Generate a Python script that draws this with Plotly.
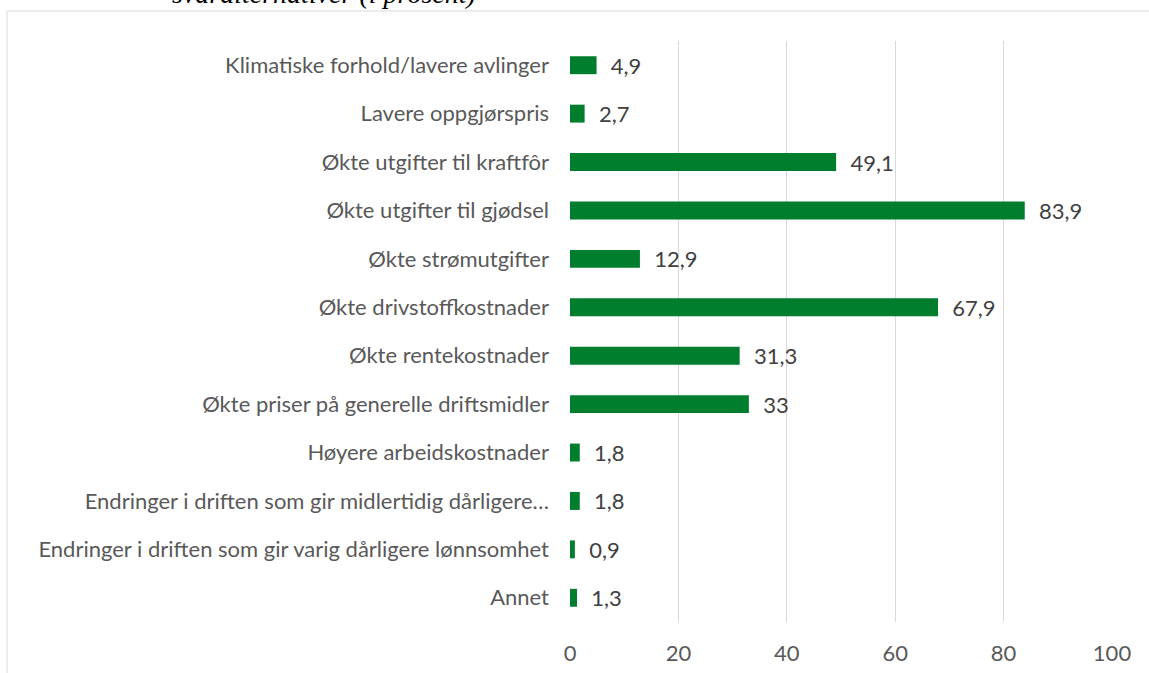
import plotly.graph_objects as go

categories = [
    "Klimatiske forhold/lavere avlinger",
    "Lavere oppgjørspris",
    "Økte utgifter til kraftfôr",
    "Økte utgifter til gjødsel",
    "Økte strømutgifter",
    "Økte drivstoffkostnader",
    "Økte rentekostnader",
    "Økte priser på generelle driftsmidler",
    "Høyere arbeidskostnader",
    "Endringer i driften som gir midlertidig dårligere…",
    "Endringer i driften som gir varig dårligere lønnsomhet",
    "Annet",
]
values = [4.9, 2.7, 49.1, 83.9, 12.9, 67.9, 31.3, 33, 1.8, 1.8, 0.9, 1.3]
tick_vals = [0, 20, 40, 60, 80, 100]
title_fragment = "svaralternativer (i prosent)"

labels = [("%g" % v).replace(".", ",") for v in values]

FONT = "Lato, 'Open Sans', sans-serif"

PT, PB = 41, 622
PH = PB - PT

fig = go.Figure(
    go.Bar(
        x=values,
        y=categories,
        orientation="h",
        marker=dict(color="#007D2D", line=dict(width=0)),
        width=0.37,
        text=labels,
        texttemplate="\u00a0\u00a0%{text}",
        textposition="outside",
        constraintext="none",
        cliponaxis=False,
        textfont=dict(family=FONT, size=22, color="#404040"),
        hoverinfo="skip",
    )
)

fig.update_layout(
    width=1149,
    height=673,
    margin=dict(l=570, r=37, t=PT, b=673 - PB),
    paper_bgcolor="white",
    plot_bgcolor="white",
    showlegend=False,
    font=dict(family=FONT, size=22, color="#595959"),
    xaxis=dict(
        range=[0, 100],
        tickvals=tick_vals,
        showgrid=True,
        gridcolor="#d9d9d9",
        gridwidth=1,
        zeroline=False,
        showline=False,
        ticks="",
        ticklabelstandoff=16,
        automargin=False,
        tickfont=dict(family=FONT, size=22, color="#595959"),
    ),
    yaxis=dict(
        autorange="reversed",
        showgrid=False,
        zeroline=False,
        showline=False,
        ticks="",
        ticklabelstandoff=20,
        automargin=False,
        tickfont=dict(family=FONT, size=22, color="#595959"),
    ),
    shapes=[
        dict(
            type="rect", xref="paper", yref="paper",
            x0=(7 - 570) / 542, x1=(1160 - 570) / 542,
            y0=(PB - 690) / PH, y1=(PB - 11) / PH,
            line=dict(color="#d9d9d9", width=1),
            fillcolor="rgba(0,0,0,0)", layer="below",
        )
    ],
    annotations=[
        dict(
            text=title_fragment, xref="paper", yref="paper",
            x=(170 - 570) / 542, y=(PB - 11) / PH,
            xanchor="left", yanchor="bottom", showarrow=False,
            font=dict(family="'Liberation Serif', serif", size=28, color="black", style="italic"),
        )
    ],
)

fig.write_html(
    "out.html",
    config={"displayModeBar": False},
    post_script="document.body.style.margin='0';document.body.style.overflow='hidden';",
)
